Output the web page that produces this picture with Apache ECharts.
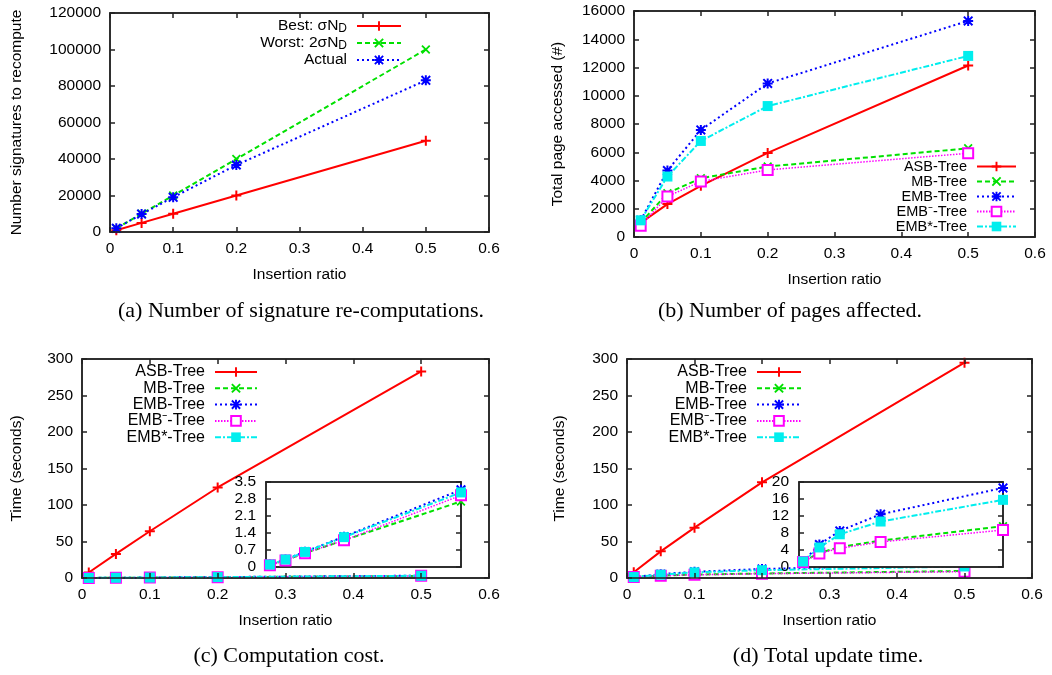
<!DOCTYPE html>
<html>
<head>
<meta charset="utf-8">
<script src="https://cdn.jsdelivr.net/npm/echarts@6/dist/echarts.min.js"></script>
<style>
  html, body { margin: 0; padding: 0; background: #fff; }
  #chart { width: 1052px; height: 675px; }
</style>
</head>
<body>
<div id="chart"></div>
<script>
/* ================================
   DATA
================================ */
const ratios = [0.01, 0.05, 0.1, 0.2, 0.5];

// (a) signature re-computations
const bestSig   = [1000, 5000, 10000, 20000, 50000];
const worstSig  = [2000, 10000, 20000, 40000, 100000];
const actualSig = [2000, 9800, 19000, 36700, 83100];

// (b) pages accessed
const pagesASB      = [1000, 2330, 3620, 5950, 12140];
const pagesMB       = [1000, 3100, 4160, 4990, 6280];
const pagesEMB      = [1180, 4700, 7580, 10870, 15300];
const pagesEMBminus = [800, 2870, 3930, 4750, 5930];
const pagesEMBstar  = [1180, 4280, 6800, 9270, 12820];

// (c) computation cost (seconds)
const compASB      = [7.5, 33, 64, 124, 283];
const compMB       = [0.08, 0.29, 0.57, 1.1, 2.7];
const compEMB      = [0.1, 0.31, 0.63, 1.25, 3.18];
const compEMBminus = [0.07, 0.27, 0.57, 1.1, 2.95];
const compEMBstar  = [0.1, 0.31, 0.62, 1.23, 3.07];

// (d) total update time (seconds)
const updASB      = [7.8, 36.5, 69, 131, 295];
const updMB       = [1.3, 3.3, 4.7, 6.2, 9.6];
const updEMB      = [1.3, 5.3, 8.5, 12.4, 18.6];
const updEMBminus = [1.2, 3.2, 4.4, 5.9, 8.7];
const updEMBstar  = [1.3, 4.6, 7.7, 10.7, 15.8];

const treeNames = ["ASB-Tree", "MB-Tree", "EMB-Tree", "EMB\u207B-Tree", "EMB*-Tree"];
const captions = [
  "(a) Number of signature re-computations.",
  "(b) Number of pages affected.",
  "(c) Computation cost.",
  "(d) Total update time."
];

/* ================================
   STYLES
================================ */
const SANS = "'Liberation Sans', Arial, sans-serif";
const SERIF = "'Liberation Serif', 'Times New Roman', serif";
const FS = 15.5;

const PLUS  = "path://M4,0H6V4H10V6H6V10H4V6H0V4H4Z";
const CROSS = "path://M0,1.4L1.4,0L5,3.6L8.6,0L10,1.4L6.4,5L10,8.6L8.6,10L5,6.4L1.4,10L0,8.6L3.6,5Z";
const STAR  = "path://M4,0H6V4H10V6H6V10H4V6H0V4H4Z M0,1.4L1.4,0L5,3.6L8.6,0L10,1.4L6.4,5L10,8.6L8.6,10L5,6.4L1.4,10L0,8.6L3.6,5Z";

const styles = [
  { color: "#ff0000", type: "solid", width: 2, symbol: PLUS, size: 10 },
  { color: "#00e000", type: [5, 3], width: 2, symbol: CROSS, size: 9 },
  { color: "#0000ff", type: [2, 3], width: 2, symbol: STAR, size: 10 },
  { color: "#ff00ff", type: [1.5, 1.5], width: 1.5, symbol: "emptyRect", size: 10 },
  { color: "#00eeee", type: [6, 2, 2, 2], width: 2, symbol: "rect", size: 10 }
];

/* ================================
   LAYOUT
================================ */
const grids = [
  { left: 110, top: 13, width: 379, height: 219 },   // a
  { left: 634, top: 11, width: 401, height: 226 },   // b
  { left: 82, top: 359, width: 407, height: 219 },   // c
  { left: 627, top: 359, width: 405, height: 219 },  // d
  { left: 266, top: 482, width: 195, height: 85 },   // c inset
  { left: 799, top: 482, width: 204, height: 85 }    // d inset
];

const xAxes = [];
const yAxes = [];
const series = [];

function fmt(v) { return String(parseFloat(v.toPrecision(10))); }

function addAxes(gi, x, y, opts) {
  const line = () => ({ show: true, onZero: false, lineStyle: { color: "#222", width: 1.5 } });
  const tick = () => ({ show: true, inside: true, length: 5, lineStyle: { color: "#222", width: 1.5 } });
  const label = m => ({ color: "#000", fontSize: FS, fontFamily: SANS, margin: m, formatter: fmt });
  const nameStyle = () => ({ color: "#000", fontSize: FS, fontFamily: SANS });
  xAxes.push({
    type: "value", gridIndex: gi, position: "bottom", min: x[0], max: x[1], interval: x[2],
    axisLine: line(), axisTick: opts.inset ? { show: false } : tick(),
    axisLabel: opts.inset ? { show: false } : label(9), splitLine: { show: false },
    name: opts.xName || "", nameLocation: "middle", nameGap: opts.xGap || 36,
    nameTextStyle: nameStyle(), z: 5
  });
  xAxes.push({
    type: "value", gridIndex: gi, position: "top", min: x[0], max: x[1], interval: x[2],
    axisLine: line(), axisTick: opts.inset ? { show: false } : tick(),
    axisLabel: { show: false }, splitLine: { show: false }, z: 5
  });
  yAxes.push({
    type: "value", gridIndex: gi, position: "left", min: y[0], max: y[1], interval: y[2],
    axisLine: line(), axisTick: tick(), axisLabel: label(opts.inset ? 10 : 9), splitLine: { show: false },
    name: opts.yName || "", nameLocation: "middle", nameGap: opts.yGap || 50,
    nameTextStyle: nameStyle(), z: 5
  });
  yAxes.push({
    type: "value", gridIndex: gi, position: "right", min: y[0], max: y[1], interval: y[2],
    axisLine: line(), axisTick: tick(), axisLabel: { show: false }, splitLine: { show: false }, z: 5
  });
  // empty series so the mirror axes count as used
  series.push({ type: "line", xAxisIndex: gi * 2 + 1, yAxisIndex: gi * 2 + 1, data: [], silent: true });
}

function addLine(gi, name, values, st) {
  series.push({
    type: "line", name: name,
    xAxisIndex: gi * 2, yAxisIndex: gi * 2,
    data: ratios.map((r, i) => [r, values[i]]),
    symbol: st.symbol, symbolSize: st.size, showSymbol: true,
    lineStyle: { color: st.color, width: st.width, type: st.type },
    itemStyle: st.symbol === "emptyRect"
      ? { color: st.color, borderColor: st.color, borderWidth: 2 }
      : { color: st.color },
    emphasis: { disabled: true },
    z: gi >= 4 ? 6 : 2,
    animation: false
  });
}

addAxes(0, [0, 0.6, 0.1], [0, 120000, 20000], { xName: "Insertion ratio", xGap: 35, yName: "Number signatures to recompute", yGap: 85 });
addAxes(1, [0, 0.6, 0.1], [0, 16000, 2000], { xName: "Insertion ratio", xGap: 35, yName: "Total page accessed (#)", yGap: 68 });
addAxes(2, [0, 0.6, 0.1], [0, 300, 50], { xName: "Insertion ratio", xGap: 35, yName: "Time (seconds)", yGap: 57 });
addAxes(3, [0, 0.6, 0.1], [0, 300, 50], { xName: "Insertion ratio", xGap: 35, yName: "Time (seconds)", yGap: 59 });
addAxes(4, [0, 0.5, 0.1], [0, 3.5, 0.7], { inset: true });
addAxes(5, [0, 0.5, 0.1], [0, 20, 4], { inset: true });

const sigNames = ["Best: \u03C3N_D", "Worst: 2\u03C3N_D", "Actual"];
addLine(0, sigNames[0], bestSig, styles[0]);
addLine(0, sigNames[1], worstSig, styles[1]);
addLine(0, sigNames[2], actualSig, styles[2]);

[pagesASB, pagesMB, pagesEMB, pagesEMBminus, pagesEMBstar].forEach((v, i) => addLine(1, treeNames[i], v, styles[i]));
[compASB, compMB, compEMB, compEMBminus, compEMBstar].forEach((v, i) => addLine(2, treeNames[i], v, styles[i]));
[updASB, updMB, updEMB, updEMBminus, updEMBstar].forEach((v, i) => addLine(3, treeNames[i], v, styles[i]));
[compMB, compEMB, compEMBminus, compEMBstar].forEach((v, i) => addLine(4, treeNames[i + 1], v, styles[i + 1]));
[updMB, updEMB, updEMBminus, updEMBstar].forEach((v, i) => addLine(5, treeNames[i + 1], v, styles[i + 1]));

/* ================================
   LEGENDS & CAPTIONS
================================ */
function legend(names, right, top, itemWidth, gap, fontSize, rich) {
  return {
    data: names, orient: "vertical", align: "right", right: right, top: top,
    itemWidth: itemWidth, itemHeight: 12, itemGap: gap, selectedMode: false, padding: 0,
    textStyle: { color: "#000", fontSize: fontSize, fontFamily: SANS, padding: [0, 5, 0, 0], rich: rich },
    formatter: n => n.replace(/_(\w)/, "{sub|$1}")
  };
}

const subRich = { sub: { fontSize: 12, fontFamily: SANS, color: "#000", padding: [6, 0, 0, 0] } };

const legends = [
  legend(sigNames, 1052 - 402, 18, 44, 0, 15.5, subRich),
  legend(treeNames, 1052 - 1017, 159, 39, 0, 14.5),
  legend(treeNames, 1052 - 258, 364, 42, 0.3, 16),
  legend(treeNames, 1052 - 802, 364, 44, 0.3, 16)
];

const captionPos = [[301, 300], [790, 300], [289, 645], [828, 645]];
const titles = captions.map((c, i) => ({
  text: c, left: captionPos[i][0], top: captionPos[i][1], textAlign: "center", padding: 0,
  textStyle: { color: "#000", fontSize: 22, fontWeight: "normal", fontFamily: SERIF }
}));

/* ================================
   RENDER
================================ */
const chart = echarts.init(document.getElementById("chart"), null, { renderer: "canvas" });
chart.setOption({
  backgroundColor: "#fff",
  animation: false,
  title: titles,
  legend: legends,
  grid: grids.map((g, i) => Object.assign({
    show: true, backgroundColor: i >= 4 ? "#fff" : "transparent",
    borderColor: "#222", borderWidth: 1.5, z: i >= 4 ? 4 : 0
  }, g)),
  xAxis: xAxes,
  yAxis: yAxes,
  series: series
});
</script>
</body>
</html>
